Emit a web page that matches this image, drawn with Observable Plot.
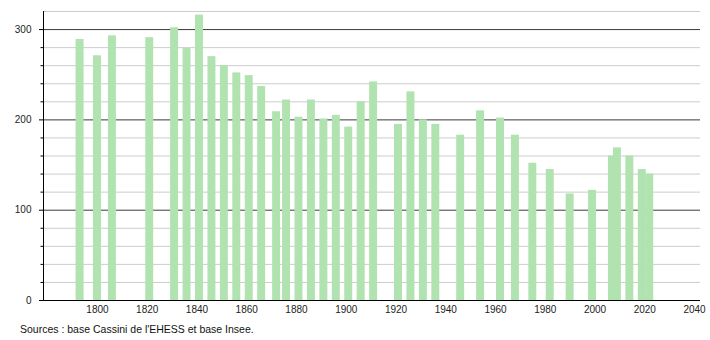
<!DOCTYPE html>
<html>
<head>
<meta charset="utf-8">
<script src="https://cdn.jsdelivr.net/npm/d3@7"></script>
<script src="https://cdn.jsdelivr.net/npm/@observablehq/plot@0.6"></script>
<style>
  html, body { margin: 0; padding: 0; background: #fff; }
  #wrap { position: relative; width: 710px; height: 340px; }
  #caption { position: absolute; left: 20px; top: 323px; font: 10.5px "Liberation Sans", Arial, sans-serif; line-height: 12px; color: #111; white-space: nowrap; }
</style>
</head>
<body>
<div id="wrap">
  <div id="chart"></div>
  <div id="caption">Sources : base Cassini de l'EHESS et base Insee.</div>
</div>
<script>
const years = [1793,1800,1806,1821,1831,1836,1841,1846,1851,1856,1861,1866,1872,1876,1881,1886,1891,1896,1901,1906,1911,1921,1926,1931,1936,1946,1954,1962,1968,1975,1982,1990,1999,2007,2009,2014,2019,2022];
const population = [289,271,293,291,302,279,316,270,260,252,249,237,209,222,203,222,201,205,192,220,242,195,231,200,195,183,210,202,183,152,145,118,122,160,169,160,145,140];
const xTicks = [1800,1820,1840,1860,1880,1900,1920,1940,1960,1980,2000,2020,2040];
const yMajor = [0,100,200,300];
const yMinor = [20,40,60,80,120,140,160,180,220,240,260,280,320];

const data = years.map((y, i) => ({year: y, pop: population[i]}));
const xDomain = [1778.3, 2042.4];
const halfW = 1.6;

const chart = Plot.plot({
  width: 710,
  height: 318,
  marginLeft: 43,
  marginRight: 10,
  marginTop: 11,
  marginBottom: 18,
  style: {fontFamily: "'Liberation Sans', Arial, sans-serif", fontSize: "10px", color: "#222", background: "#fff"},
  x: {domain: xDomain},
  y: {domain: [0, 320]},
  marks: [
    Plot.gridY(yMinor, {stroke: "#cccccc", strokeOpacity: 1}),
    Plot.gridY([100, 200, 300], {stroke: "#3a3a3a", strokeOpacity: 1}),
    Plot.rectY(data, {x1: d => d.year - halfW, x2: d => d.year + halfW, y: "pop", fill: "#b0e3b0"}),
    Plot.ruleX([xDomain[0]], {stroke: "#000"}),
    Plot.ruleY([0], {stroke: "#000"}),
    Plot.axisY(yMajor, {tickSize: 4, tickPadding: 8, label: null, stroke: "#000"}),
    Plot.axisY(yMinor.filter(v => v < 320), {tickSize: 2.5, text: null, label: null, stroke: "#000"}),
    Plot.axisX(xTicks, {tickSize: 0, tickPadding: 5, tickFormat: d => String(d), label: null})
  ]
});
document.getElementById("chart").appendChild(chart);
</script>
</body>
</html>
